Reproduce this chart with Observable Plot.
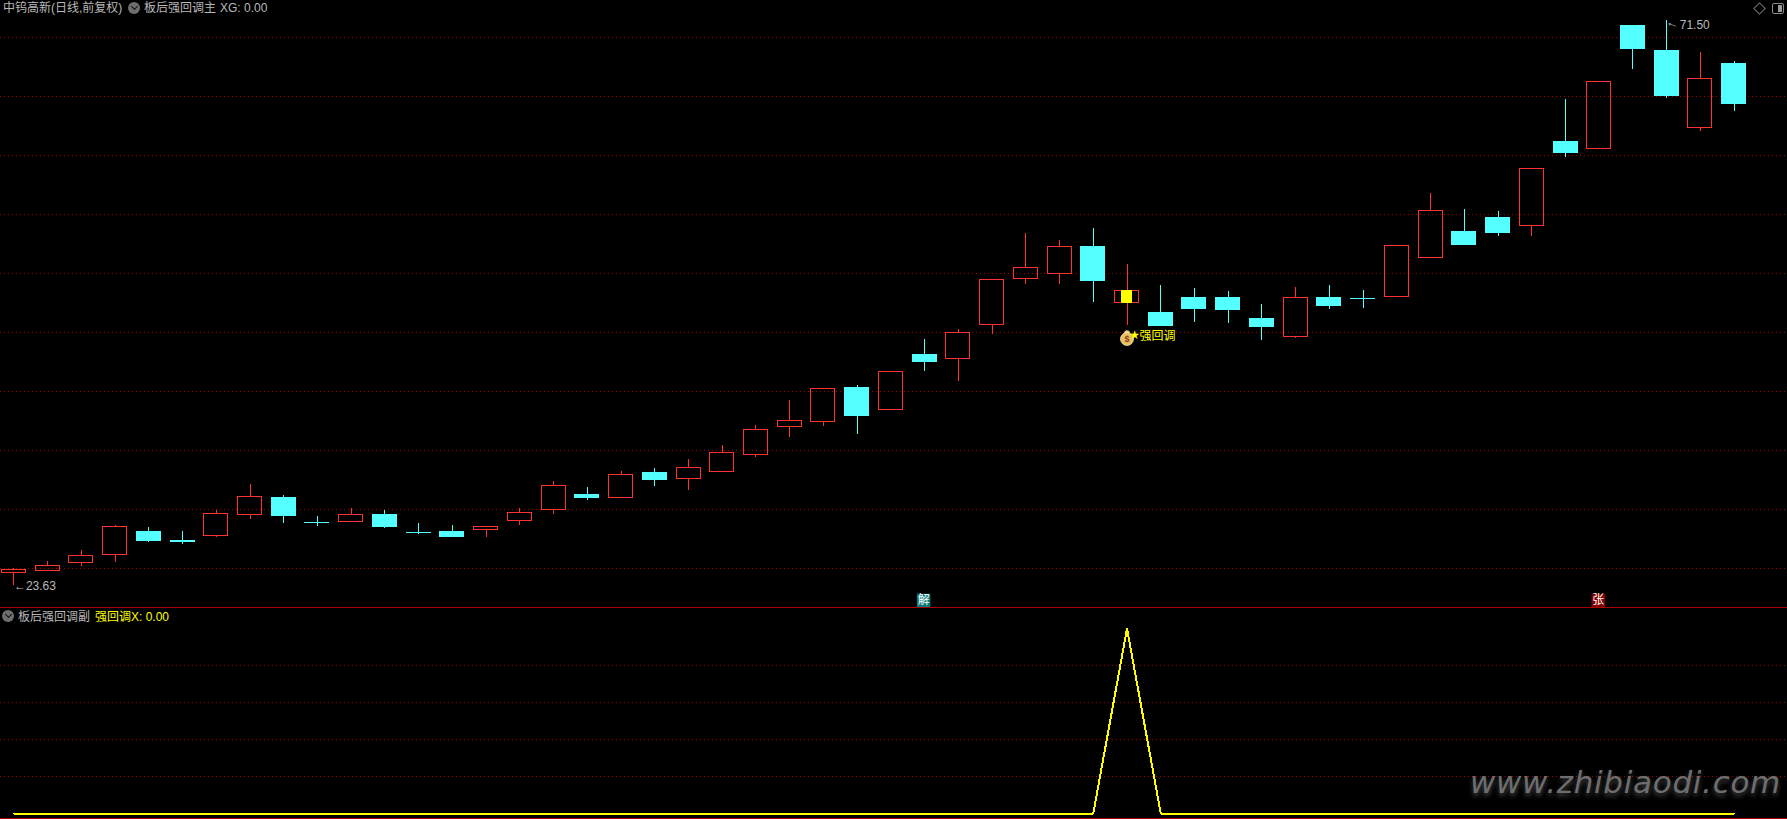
<!DOCTYPE html>
<html lang="zh">
<head>
<meta charset="utf-8">
<script src="https://cdn.jsdelivr.net/npm/d3@7"></script>
<script src="https://cdn.jsdelivr.net/npm/@observablehq/plot@0.6"></script>
<style>
html,body{margin:0;padding:0;background:#000;width:1787px;height:819px;overflow:hidden}
#wrap{position:relative;width:1787px;height:819px;background:#000}
#wrap svg{display:block;background:#000;max-width:none}
.t{position:absolute;white-space:pre;font:12px/14px "Liberation Sans","Noto Sans CJK SC",sans-serif;color:#b8b8b8;transform:translateY(-50%)}
.y{color:#ffff00}
.chev{position:absolute;width:12px;height:12px;border-radius:50%;background:#6e6e6e;transform:translateY(-50%)}
.chev:after{content:"";position:absolute;left:3.5px;top:2px;width:4px;height:4px;border-right:1px solid #111;border-bottom:1px solid #111;transform:rotate(45deg)}
#dia{position:absolute;left:1755px;top:4px;width:7px;height:7px;border:1px solid #777;transform:rotate(45deg)}
#pan{position:absolute;left:1772px;top:3px;width:10px;height:9px;border:1px solid #8a8a8a;border-radius:2px}
#pan:after{content:"";position:absolute;right:1px;top:1px;width:4px;height:7px;background:#9a9a9a}
#wm{position:absolute;left:1470px;top:792px;transform:translateY(-78%);font:italic 31px "DejaVu Sans",sans-serif;letter-spacing:.7px;color:#6e6e6e;text-shadow:0 3px 5px rgba(130,130,130,.55);white-space:pre}
</style>
</head>
<body>
<div id="wrap"></div>
<script>
const opens  = [24.63,24.80,25.47,26.15,28.16,27.40,27.76,29.54,31.04,28.92,28.95,29.60,28.05,28.16,28.27,29.03,29.97,31.30,30.98,33.08,32.59,33.19,34.63,37.00,37.42,40.36,38.44,43.08,42.76,45.64,49.54,49.97,52.31,47.51,46.72,47.91,47.91,46.13,44.63,47.99,47.88,48.02,51.32,53.58,54.69,54.03,61.21,60.56,71.04,68.84,62.34,67.82];
const closes = [24.94,25.25,26.10,28.56,27.34,27.31,29.66,31.10,29.46,28.87,29.58,28.53,28.00,27.74,28.56,29.75,32.03,31.04,32.97,32.57,33.56,34.83,36.78,37.54,40.25,37.99,41.69,42.57,45.00,49.49,50.51,52.29,49.43,48.56,45.62,47.06,46.97,45.53,47.97,47.31,47.83,52.37,55.34,52.48,53.50,58.90,60.28,66.27,69.09,65.03,66.53,64.43];
const highs  = [25.00,25.62,26.55,28.67,28.50,28.16,29.94,32.14,31.21,29.43,30.11,29.94,28.84,28.67,28.56,30.11,32.40,31.86,33.25,33.50,34.26,35.45,37.14,39.26,40.25,40.53,41.69,44.43,45.28,49.49,53.42,52.82,53.84,50.79,49.01,48.75,48.50,47.40,48.84,49.01,48.58,52.37,56.78,55.45,55.28,58.90,64.77,66.27,71.04,71.50,68.76,67.99];
const lows   = [23.63,24.80,25.19,25.53,27.23,27.08,27.65,29.18,28.86,28.61,28.95,28.42,27.93,27.65,27.65,28.67,29.63,30.79,30.98,31.97,31.64,33.19,34.43,36.13,37.06,36.38,38.44,41.72,40.87,44.86,49.12,49.12,47.57,45.62,45.62,45.87,45.79,44.35,44.52,46.97,47.06,48.02,51.32,52.40,53.16,53.16,59.86,60.56,67.31,64.86,62.06,63.75];
const strongPullback = [0,0,0,0,0,0,0,0,0,0,0,0,0,0,0,0,0,0,0,0,0,0,0,0,0,0,0,0,0,0,0,0,0,1,0,0,0,0,0,0,0,0,0,0,0,0,0,0,0,0,0,0];
const priceGrid = [25,30,35,40,45,50,55,60,65,70];
const subGrid = [0.2,0.4,0.6,0.8];
const signalIndex = [33];
const signalLabel = "强回调";
const badges = [{i:27,label:"解",bg:"#0a7a7a"},{i:47,label:"张",bg:"#800000"}];
const lowMark = [{i:0,price:23.63}];
const highMark = [{i:49,price:71.50}];

const GRID = "#a00000", SEP = "#a80000", RED = "#ff3232", CYAN = "#54ffff", YEL = "#ffff00", GRAY = "#b8b8b8";
const FONT = '"Liberation Sans","Noto Sans CJK SC",sans-serif';
const CRISP = "crispEdges";

const candles = opens.map((o,i)=>({i,o,c:closes[i],h:highs[i],l:lows[i],up:closes[i]>opens[i]}));
const up = candles.filter(d=>d.up), down = candles.filter(d=>!d.up);
const signal = candles.filter(d=>signalIndex.includes(d.i));
const indices = candles.map(d=>d.i);
const xScale = {type:"band",domain:indices,padding:0.2885,round:false,range:[-8.33,1755.4],axis:null};
const colorOf = d=>d.up?RED:CYAN;

const mainPane = Plot.plot({
  width:1787,height:608,margin:0,
  style:{background:"#000"},
  x:xScale,
  y:{domain:[21.64,73.16],range:[608,0],axis:null},
  marks:[
    Plot.ruleY(priceGrid,{stroke:GRID,strokeDasharray:"1 3",strokeWidth:1,shapeRendering:CRISP}),
    Plot.ruleX(candles,{x:"i",y1:d=>Math.max(d.o,d.c),y2:"h",stroke:colorOf,strokeWidth:1,shapeRendering:CRISP}),
    Plot.ruleX(candles,{x:"i",y1:d=>Math.min(d.o,d.c),y2:"l",stroke:colorOf,strokeWidth:1,shapeRendering:CRISP}),
    Plot.barY(up,{x:"i",y1:"o",y2:"c",fill:"none",stroke:RED,strokeWidth:1,shapeRendering:CRISP}),
    Plot.barY(down,{x:"i",y1:"o",y2:"c",fill:CYAN,stroke:CYAN,strokeWidth:1,shapeRendering:CRISP}),
    Plot.barY(signal,{x:"i",y1:"o",y2:"c",fill:YEL,insetLeft:6.5,insetRight:6.5,shapeRendering:CRISP}),
    Plot.dot(signal,{x:"i",y:"l",dy:7.5,r:2.8,fill:"#e8c874"}),
    Plot.dot(signal,{x:"i",y:"l",dy:13.5,r:6.5,fill:"#e8c060",stroke:"#fff4c8",strokeWidth:.7}),
    Plot.text(signal,{x:"i",y:"l",dy:13.5,text:()=>"$",fill:"#8a3a20",fontSize:9,fontWeight:"bold",fontFamily:FONT}),
    Plot.text(signal,{x:"i",y:"l",dx:7.5,dy:10,text:()=>"★",fill:YEL,fontSize:12,fontFamily:'"DejaVu Sans",sans-serif'}),
    Plot.text(signal,{x:"i",y:"l",dx:12.5,dy:11,text:()=>signalLabel,textAnchor:"start",fill:YEL,fontSize:12,fontFamily:FONT}),
    Plot.text(lowMark,{x:"i",y:"price",text:d=>"←"+d.price.toFixed(2),textAnchor:"start",dx:0,dy:1,fill:GRAY,fontSize:12,fontFamily:FONT}),
    Plot.text(highMark,{x:"i",y:"price",text:()=>"←",rotate:20,dx:6,dy:3,fill:GRAY,fontSize:13,fontFamily:FONT}),
    Plot.text(highMark,{x:"i",y:"price",text:d=>d.price.toFixed(2),textAnchor:"start",dx:13,dy:5,fill:GRAY,fontSize:12,fontFamily:FONT}),
    Plot.dot(badges,{x:"i",frameAnchor:"bottom",dx:-1,dy:-8,symbol:"square",r:7.6,fill:"bg"}),
    Plot.text(badges,{x:"i",frameAnchor:"bottom",dx:-1,dy:-8,lineAnchor:"middle",text:"label",fill:"#fff",fontSize:12,fontFamily:FONT}),
    Plot.ruleY([21.70],{stroke:SEP,strokeWidth:1,shapeRendering:CRISP})
  ]
});

const subPane = Plot.plot({
  width:1787,height:211,margin:0,
  style:{background:"#000"},
  x:xScale,
  y:{domain:[-0.0324,1.108],range:[211,0],axis:null},
  marks:[
    Plot.ruleY(subGrid,{stroke:GRID,strokeDasharray:"1 3",strokeWidth:1,shapeRendering:CRISP}),
    Plot.line(strongPullback,{x:(d,i)=>i,y:d=>d,stroke:YEL,strokeWidth:2,curve:"linear",shapeRendering:CRISP}),
    Plot.ruleY([-0.027],{stroke:SEP,strokeWidth:1,shapeRendering:CRISP})
  ]
});

const wrap = document.getElementById("wrap");
wrap.append(mainPane,subPane);
const add=(cls,left,y,txt)=>{const s=document.createElement("div");s.className=cls;s.style.left=left+"px";s.style.top=y+"px";if(txt)s.textContent=txt;wrap.append(s);};
add("t",3,8,"中钨高新(日线,前复权)");
add("chev",128,8);
add("t",144,8,"板后强回调主");
add("t",220,8,"XG: 0.00");
add("chev",2,616);
add("t",18,617,"板后强回调副");
add("t y",95,617,"强回调X: 0.00");
for(const id of ["dia","pan"]){const s=document.createElement("div");s.id=id;wrap.append(s);}
const wm=document.createElement("div");wm.id="wm";wm.textContent="www.zhibiaodi.com";wrap.append(wm);
</script>
</body>
</html>
